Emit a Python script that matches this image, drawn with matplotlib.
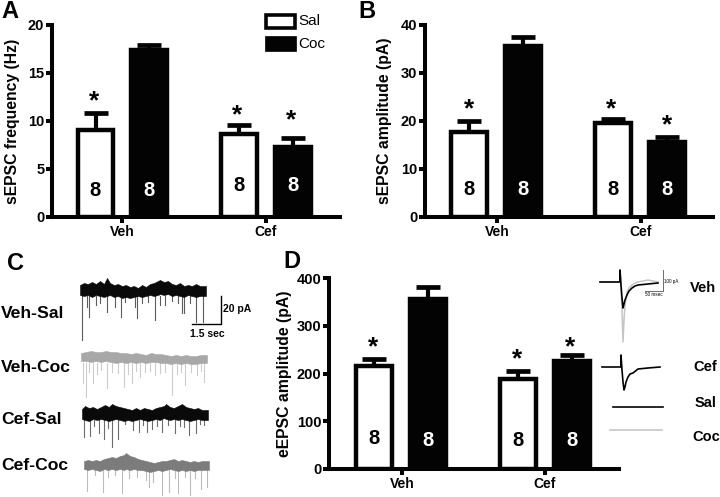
import matplotlib
matplotlib.use('Agg')
import matplotlib.pyplot as plt
import matplotlib.patches as patches

plt.rcParams['font.family'] = ['Liberation Sans', 'DejaVu Sans']

W, H = 720, 497
INK = '#030303'

# bar values
groups = ['Veh', 'Cef']
n_label = '8'

freq_sal = [9.1, 8.65]
freq_coc = [17.4, 7.3]
freq_sal_err = [1.7, 0.95]
freq_coc_err = [0.5, 0.9]

amp_sal = [17.8, 19.6]
amp_coc = [35.6, 15.6]
amp_sal_err = [2.2, 0.9]
amp_coc_err = [2.0, 1.0]

eamp_sal = [216, 188]
eamp_coc = [356, 226]
eamp_sal_err = [14, 18]
eamp_coc_err = [25, 12]

# spontaneous traces, picture px: spike tips (x, y)
veh_sal_spikes = [(82, 340), (89, 317), (107, 312), (121, 317), (137, 318), (155, 320), (182, 313),
                  (184, 313), (196, 322), (203, 322), (87, 307), (96, 305), (100, 303), (115, 307),
                  (125, 302), (135, 307), (142, 303), (148, 302), (160, 305), (165, 305), (172, 301),
                  (190, 303), (178, 303)]
veh_coc_spikes = [(86, 397), (83, 383), (93, 383), (107, 388), (118, 373), (124, 387), (132, 383),
                  (140, 377), (155, 375), (172, 395), (185, 385), (197, 375), (204, 382), (89, 372),
                  (97, 374), (101, 370), (112, 372), (128, 374), (136, 371), (145, 372), (150, 371),
                  (160, 373), (165, 372), (177, 374), (181, 372), (191, 372), (201, 371)]
cef_sal_spikes = [(84, 437), (90, 436), (99, 433), (104, 439), (112, 447), (118, 439), (133, 430),
                  (139, 432), (147, 432), (152, 429), (162, 432), (175, 433), (189, 435), (196, 433),
                  (204, 425), (94, 426), (108, 428), (125, 424), (143, 425), (157, 426), (168, 425),
                  (180, 426), (184, 427), (200, 424)]
cef_coc_spikes = [(87, 491), (103, 492), (122, 493), (129, 478), (149, 487), (162, 495), (169, 492),
                  (178, 493), (190, 495), (201, 489), (207, 487), (95, 475), (108, 477), (115, 475),
                  (137, 477), (153, 482), (175, 478), (185, 477), (195, 478), (146, 480)]

# band outline per trace: x, top, bottom
veh_sal_x = [80, 84, 88, 92, 96, 100, 104, 107, 110, 114, 118, 122, 126, 130, 134, 138, 142, 146,
             150, 154, 158, 160, 164, 168, 172, 176, 180, 184, 188, 192, 196, 200, 206]
veh_sal_top = [285, 283, 284, 282, 284, 281, 284, 278, 283, 285, 284, 286, 285, 287, 286, 288, 285,
               287, 284, 283, 281, 280, 282, 281, 284, 285, 283, 286, 285, 286, 284, 286, 286]
veh_sal_bot = [295, 296, 295, 297, 295, 296, 297, 296, 295, 297, 296, 298, 297, 298, 297, 296, 297,
               296, 295, 296, 295, 294, 295, 294, 296, 295, 296, 297, 295, 296, 297, 296, 296]
veh_coc_x = [81, 86, 91, 96, 101, 106, 111, 116, 121, 126, 131, 136, 141, 146, 151, 156, 161, 166,
             171, 176, 181, 186, 191, 196, 201, 207]
veh_coc_top = [353, 352, 351, 352, 352, 351, 352, 352, 353, 353, 354, 353, 354, 355, 353, 354, 354,
               355, 356, 355, 356, 355, 356, 356, 355, 355]
veh_coc_bot = [361, 361, 362, 361, 362, 361, 362, 363, 362, 363, 362, 363, 362, 363, 362, 362, 363,
               363, 364, 363, 364, 363, 364, 364, 363, 363]
cef_sal_x = [82, 85, 89, 93, 97, 101, 105, 109, 112, 116, 120, 124, 128, 132, 136, 140, 144, 148,
             152, 156, 160, 164, 166, 170, 174, 178, 182, 186, 190, 194, 198, 202, 208]
cef_sal_top = [409, 406, 408, 407, 409, 407, 405, 407, 404, 406, 407, 408, 409, 410, 408, 410, 408,
               409, 410, 408, 407, 406, 404, 407, 408, 406, 404, 407, 408, 409, 408, 410, 410]
cef_sal_bot = [419, 420, 421, 419, 420, 419, 420, 421, 420, 419, 420, 421, 420, 421, 420, 419, 420,
               421, 420, 419, 420, 418, 419, 420, 419, 420, 419, 420, 421, 420, 419, 420, 420]
cef_coc_x = [84, 88, 92, 96, 100, 104, 108, 112, 116, 120, 124, 126, 130, 134, 138, 142, 146, 150,
             154, 158, 162, 166, 170, 174, 178, 182, 186, 190, 194, 198, 202, 209]
cef_coc_top = [461, 460, 461, 460, 461, 459, 458, 457, 458, 456, 455, 453, 456, 457, 459, 460, 461,
               462, 463, 462, 461, 461, 460, 459, 461, 460, 461, 462, 461, 462, 461, 461]
cef_coc_bot = [469, 470, 469, 470, 471, 469, 470, 469, 470, 469, 470, 469, 470, 469, 470, 470, 471,
               472, 471, 470, 471, 470, 469, 470, 471, 470, 471, 470, 471, 470, 470, 470]

# evoked traces in panel D insets
veh_evoked_x = [600, 619, 620, 620, 621, 622, 623, 624, 625, 627, 629, 632, 635, 638, 648, 658]
veh_sal_evoked = [282, 282, 282, 270, 285, 298, 308, 304, 300, 295, 291, 288, 286, 285, 284, 283]
veh_coc_evoked = [282, 282, 282, 270, 285, 310, 342, 320, 305, 292, 288, 285, 283, 282, 280, 282]
cef_evoked_x = [602, 620, 621, 621, 622, 623, 624, 625, 626, 628, 630, 633, 638, 648, 660]
cef_evoked_y = [367, 367, 367, 355, 370, 382, 390, 387, 382, 377, 374, 373, 369, 368, 367]


def bar_panel(box, ymax, yticks, ylabel, label_x, centers, ticks, sal, coc, sal_err, coc_err, n_y, star_x, star_y):
    # box = left, right, bottom, top in px of the picture
    l, r, b, t = box
    ax = fig.add_axes([l / W, 1 - b / H, (r - l) / W, (b - t) / H])
    ax.set_xlim(l, r)
    ax.set_ylim(0, ymax)
    width = 35.6
    vals = [sal[0], coc[0], sal[1], coc[1]]
    errs = [sal_err[0], coc_err[0], sal_err[1], coc_err[1]]
    faces = ['white', INK, 'white', INK]
    for x, v, e, f, ny in zip(centers, vals, errs, faces, n_y):
        ax.errorbar(x, v, yerr=[[0], [e]], color=INK, elinewidth=3, capsize=8.3, capthick=3.4, zorder=2)
        ax.bar(x, v, width=width, facecolor=f, edgecolor=INK, linewidth=3.2, zorder=3)
        ax.text(x, ny, n_label, ha='center', va='center', fontsize=14.5, fontweight='bold',
                color='white' if f != 'white' else INK, zorder=4)
    for x, y in zip(star_x, star_y):
        ax.text(x, y, '*', ha='center', va='center', fontsize=19, fontweight='bold', color=INK, zorder=4)
    ax.set_xticks(ticks)
    ax.set_xticklabels(groups, fontsize=10, fontweight='bold', color=INK)
    ax.set_yticks(yticks)
    ax.set_yticklabels([str(v) for v in yticks], fontsize=10.5, fontweight='bold', color=INK)
    ax.tick_params(axis='both', width=2.9, length=4.5, color=INK, pad=1)
    ax.set_ylabel(ylabel, fontsize=11.3, fontweight='bold', color=INK, va='center')
    ax.yaxis.set_label_coords((label_x - l) / (r - l), 0.5)
    for s in ['top', 'right']:
        ax.spines[s].set_visible(False)
    for s in ['left', 'bottom']:
        ax.spines[s].set_linewidth(2.9)
        ax.spines[s].set_color(INK)
    ax.patch.set_alpha(0)
    return ax


def trace(ov, xs, top, bot, spikes, band_c, spike_c):
    mid = sum(bot) / len(bot)
    for x, y in spikes:
        ov.plot([x, x], [mid, y], color=spike_c, lw=0.8, zorder=2)
    ov.fill_between(xs, top, bot, color=band_c, lw=0.4, zorder=3)


fig = plt.figure(figsize=(W / 100, H / 100), dpi=100)

bar_panel((52, 340, 217, 25), 20, [0, 5, 10, 15, 20], 'sEPSC frequency (Hz)', 13,
          [95.5, 149, 239, 293], [122, 266], freq_sal, freq_coc, freq_sal_err, freq_coc_err,
          [2.8, 2.8, 3.3, 3.3], [94, 237, 291], [12.1, 10.55, 10.1])
bar_panel((425, 713, 217, 25), 40, [0, 10, 20, 30, 40], 'sEPSC amplitude (pA)', 384,
          [469, 523, 613, 667], [497, 641], amp_sal, amp_coc, amp_sal_err, amp_coc_err,
          [5.8, 5.8, 5.8, 5.8], [469, 611, 667], [22.4, 22.4, 19.0])
bar_panel((329, 619, 469, 278), 400, [0, 100, 200, 300, 400], 'eEPSC amplitude (pA)', 285,
          [374, 428, 518, 572], [402, 545], eamp_sal, eamp_coc, eamp_sal_err, eamp_coc_err,
          [63, 60, 60, 60], [373, 517, 570], [255, 230, 255])

# overlay in picture px for legend, letters, traces
ov = fig.add_axes([0, 0, 1, 1])
ov.set_xlim(0, W)
ov.set_ylim(H, 0)
ov.axis('off')
ov.patch.set_alpha(0)

for letter, x, y in [('A', 1, 12), ('B', 358, 12), ('C', 7, 263), ('D', 283, 262)]:
    ov.text(x, y, letter, fontsize=17, fontweight='bold', color=INK, va='center', ha='left')

ov.add_patch(patches.Rectangle((266, 15), 29, 13, facecolor='white', edgecolor=INK, lw=2.6))
ov.add_patch(patches.Rectangle((265, 36), 31, 15, facecolor=INK, edgecolor=INK, lw=0.5))
ov.text(298, 21, 'Sal', fontsize=11, color=INK, va='center')
ov.text(298, 44, 'Coc', fontsize=11, color=INK, va='center')

for label, y in [('Veh-Sal', 313), ('Veh-Coc', 368), ('Cef-Sal', 419), ('Cef-Coc', 465)]:
    ov.text(1, y, label, fontsize=12.6, fontweight='bold', color=INK, va='center')

trace(ov, veh_sal_x, veh_sal_top, veh_sal_bot, veh_sal_spikes, '#0a0a0a', '#5c5c5c')
trace(ov, veh_coc_x, veh_coc_top, veh_coc_bot, veh_coc_spikes, '#a8a8a8', '#cccccc')
trace(ov, cef_sal_x, cef_sal_top, cef_sal_bot, cef_sal_spikes, '#0a0a0a', '#6c6c6c')
trace(ov, cef_coc_x, cef_coc_top, cef_coc_bot, cef_coc_spikes, '#7c7c7c', '#bcbcbc')

# scale bar panel C
ov.plot([192, 221, 221], [324, 324, 296], color=INK, lw=1)
ov.text(223, 309, '20 pA', fontsize=7.5, fontweight='bold', color=INK, va='center')
ov.text(190, 334, '1.5 sec', fontsize=7.5, fontweight='bold', color=INK, va='center')

# evoked insets panel D
ov.plot(veh_evoked_x, veh_coc_evoked, color='#c4c4c4', lw=1.1, zorder=3)
ov.plot(veh_evoked_x, veh_sal_evoked, color=INK, lw=1.2, zorder=4)
ov.plot(cef_evoked_x, cef_evoked_y, color=INK, lw=1.2, zorder=4)
ov.plot([645, 663, 663], [291, 291, 270], color='#555555', lw=0.6)
ov.text(664, 281, '100 pA', fontsize=3.3, color=INK, va='center')
ov.text(645, 295, '50 msec', fontsize=3.3, color=INK, va='center')
ov.plot([613, 663], [407, 407], color=INK, lw=1.2)
ov.plot([610, 662], [430, 430], color='#c8c8c8', lw=1.2)
for label, x, y in [('Veh', 690, 288), ('Cef', 693, 367), ('Sal', 695, 403), ('Coc', 692, 437)]:
    ov.text(x, y, label, fontsize=10.5, fontweight='bold', color=INK, va='center')

fig.savefig('out.png', dpi=100)
